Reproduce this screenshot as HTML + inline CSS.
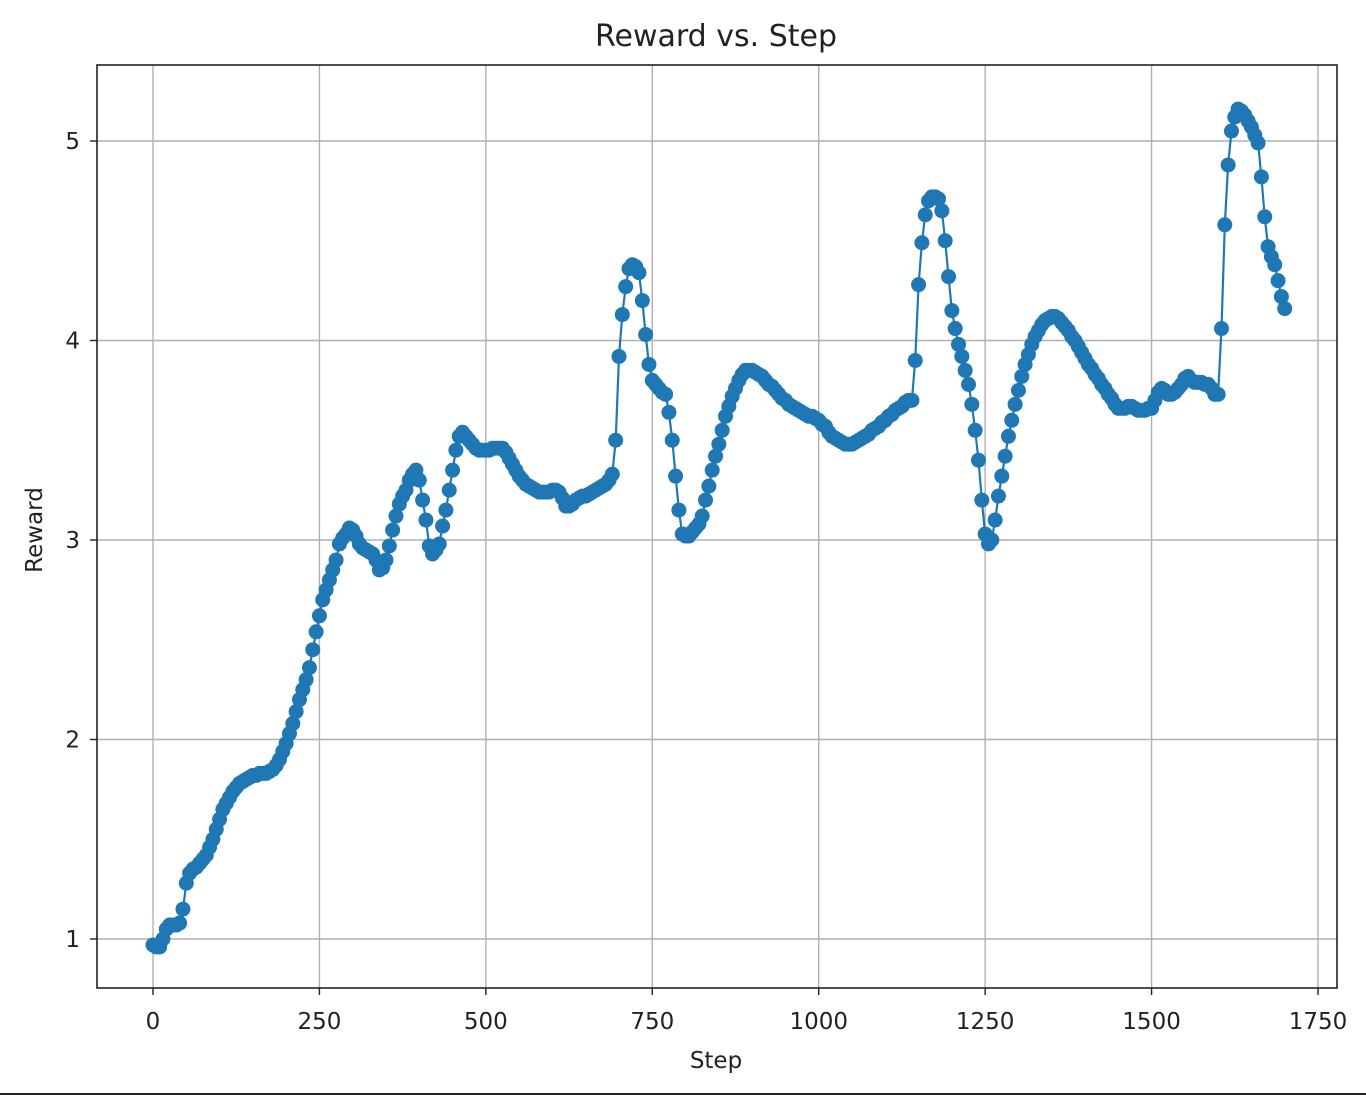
<!DOCTYPE html>
<html><head><meta charset="utf-8"><style>
html,body{margin:0;padding:0;background:#fff;}
svg{display:block;font-family:"DejaVu Sans","Liberation Sans",sans-serif;}
</style></head><body>
<svg id="chart" width="1366" height="1096" viewBox="0 0 1366 1096">
<text x="716" y="46" text-anchor="middle" font-size="30" fill="#222">Reward vs. Step</text>
<text x="716" y="1068" text-anchor="middle" font-size="23" fill="#222">Step</text>
<text transform="translate(42,530) rotate(-90)" text-anchor="middle" font-size="23" fill="#222">Reward</text>
<g id="grid"></g><g id="series"></g><g id="ticks"></g>
<rect x="97" y="65" width="1240" height="923" fill="none" stroke="#222" stroke-width="1.6"/>
<line x1="0" y1="1094" x2="1366" y2="1094" stroke="#222" stroke-width="2"/>
</svg>
<script>
const xTicks = [0,250,500,750,1000,1250,1500,1750];
const yTicks = [1,2,3,4,5];
const stepSize = 5;
const rewards = [
0.97,0.96,0.96,1.0,1.05,1.07,1.07,1.07,1.08,1.15,1.28,1.33,1.35,1.36,1.38,1.4,1.42,1.46,1.5,1.55,
1.6,1.65,1.68,1.71,1.74,1.76,1.78,1.79,1.8,1.81,1.82,1.82,1.83,1.83,1.83,1.84,1.85,1.87,1.9,1.94,
1.98,2.03,2.08,2.14,2.2,2.25,2.3,2.36,2.45,2.54,2.62,2.7,2.75,2.8,2.85,2.9,2.98,3.01,3.03,3.06,
3.05,3.02,2.98,2.96,2.95,2.94,2.93,2.9,2.85,2.86,2.9,2.97,3.05,3.12,3.18,3.22,3.25,3.3,3.33,3.35,
3.3,3.2,3.1,2.97,2.93,2.95,2.98,3.07,3.15,3.25,3.35,3.45,3.52,3.54,3.52,3.5,3.48,3.46,3.45,3.45,
3.45,3.45,3.46,3.46,3.46,3.46,3.44,3.41,3.38,3.35,3.32,3.3,3.28,3.27,3.26,3.25,3.24,3.24,3.24,3.24,
3.25,3.25,3.24,3.21,3.17,3.17,3.18,3.2,3.21,3.22,3.22,3.23,3.24,3.25,3.26,3.27,3.28,3.3,3.33,3.5,
3.92,4.13,4.27,4.36,4.38,4.37,4.34,4.2,4.03,3.88,3.8,3.78,3.76,3.74,3.73,3.64,3.5,3.32,3.15,3.03,
3.02,3.02,3.04,3.06,3.08,3.12,3.2,3.27,3.35,3.42,3.48,3.55,3.62,3.67,3.72,3.76,3.8,3.83,3.85,3.85,
3.85,3.84,3.83,3.82,3.8,3.78,3.77,3.75,3.73,3.71,3.7,3.68,3.67,3.66,3.65,3.64,3.63,3.62,3.62,3.61,
3.6,3.58,3.57,3.54,3.52,3.51,3.5,3.49,3.48,3.48,3.48,3.49,3.5,3.51,3.52,3.53,3.55,3.56,3.57,3.59,
3.6,3.62,3.63,3.65,3.66,3.67,3.69,3.7,3.7,3.9,4.28,4.49,4.63,4.7,4.72,4.72,4.71,4.65,4.5,4.32,
4.15,4.06,3.98,3.92,3.85,3.78,3.68,3.55,3.4,3.2,3.03,2.98,3.0,3.1,3.22,3.32,3.42,3.52,3.6,3.68,
3.75,3.82,3.88,3.93,3.98,4.02,4.05,4.08,4.1,4.11,4.12,4.12,4.11,4.09,4.07,4.05,4.02,4.0,3.97,3.94,
3.91,3.88,3.86,3.83,3.81,3.78,3.76,3.73,3.71,3.68,3.66,3.66,3.66,3.67,3.67,3.66,3.65,3.65,3.65,3.66,
3.66,3.7,3.74,3.76,3.75,3.73,3.73,3.74,3.76,3.78,3.81,3.82,3.8,3.79,3.79,3.79,3.78,3.78,3.76,3.73,
3.73,4.06,4.58,4.88,5.05,5.12,5.16,5.15,5.13,5.1,5.07,5.03,4.99,4.82,4.62,4.47,4.42,4.38,4.3,4.22,
4.16];
const steps = rewards.map((_, i) => i * stepSize);

const NS = "http://www.w3.org/2000/svg";
const X = s => 153 + (s / 1750) * (1318 - 153);
const Y = v => 939 - (v - 1) * 199.5;
const grid = document.getElementById('grid');
const ticks = document.getElementById('ticks');
const series = document.getElementById('series');
function mk(tag, attrs, parent){const e=document.createElementNS(NS,tag);for(const k in attrs)e.setAttribute(k,attrs[k]);parent.appendChild(e);return e;}

xTicks.forEach(t => {
  const x = X(t);
  const g = mk('line',{x1:x,x2:x,y1:65,y2:988,stroke:'#b0b0b0','stroke-width':1.4},grid);
  
  
  const tk = mk('line',{x1:x,x2:x,y1:988,y2:995,stroke:'#222','stroke-width':1.4},ticks);
  
  
  const lb = mk('text',{x:x,y:1029,'text-anchor':'middle','font-size':23,fill:'#222'},ticks);
  lb.textContent = t;
  
  
});
yTicks.forEach(t => {
  const y = Y(t);
  const g = mk('line',{x1:97,x2:1337,y1:y,y2:y,stroke:'#b0b0b0','stroke-width':1.4},grid);
  
  
  const tk = mk('line',{x1:90,x2:97,y1:y,y2:y,stroke:'#222','stroke-width':1.4},ticks);
  
  
  const lb = mk('text',{x:80,y:y+8,'text-anchor':'end','font-size':23,fill:'#222'},ticks);
  lb.textContent = t;
  
  
});
const pts = steps.map((s,i)=>X(s).toFixed(1)+','+Y(rewards[i]).toFixed(1)).join(' ');
const line = mk('polyline',{points:pts,fill:'none',stroke:'#1f77b4','stroke-width':2.2},series);


steps.forEach((s,i)=>{
  const c = mk('circle',{cx:X(s),cy:Y(rewards[i]),r:7.5,fill:'#1f77b4'},series);
  
  
});
</script>
</body></html>
